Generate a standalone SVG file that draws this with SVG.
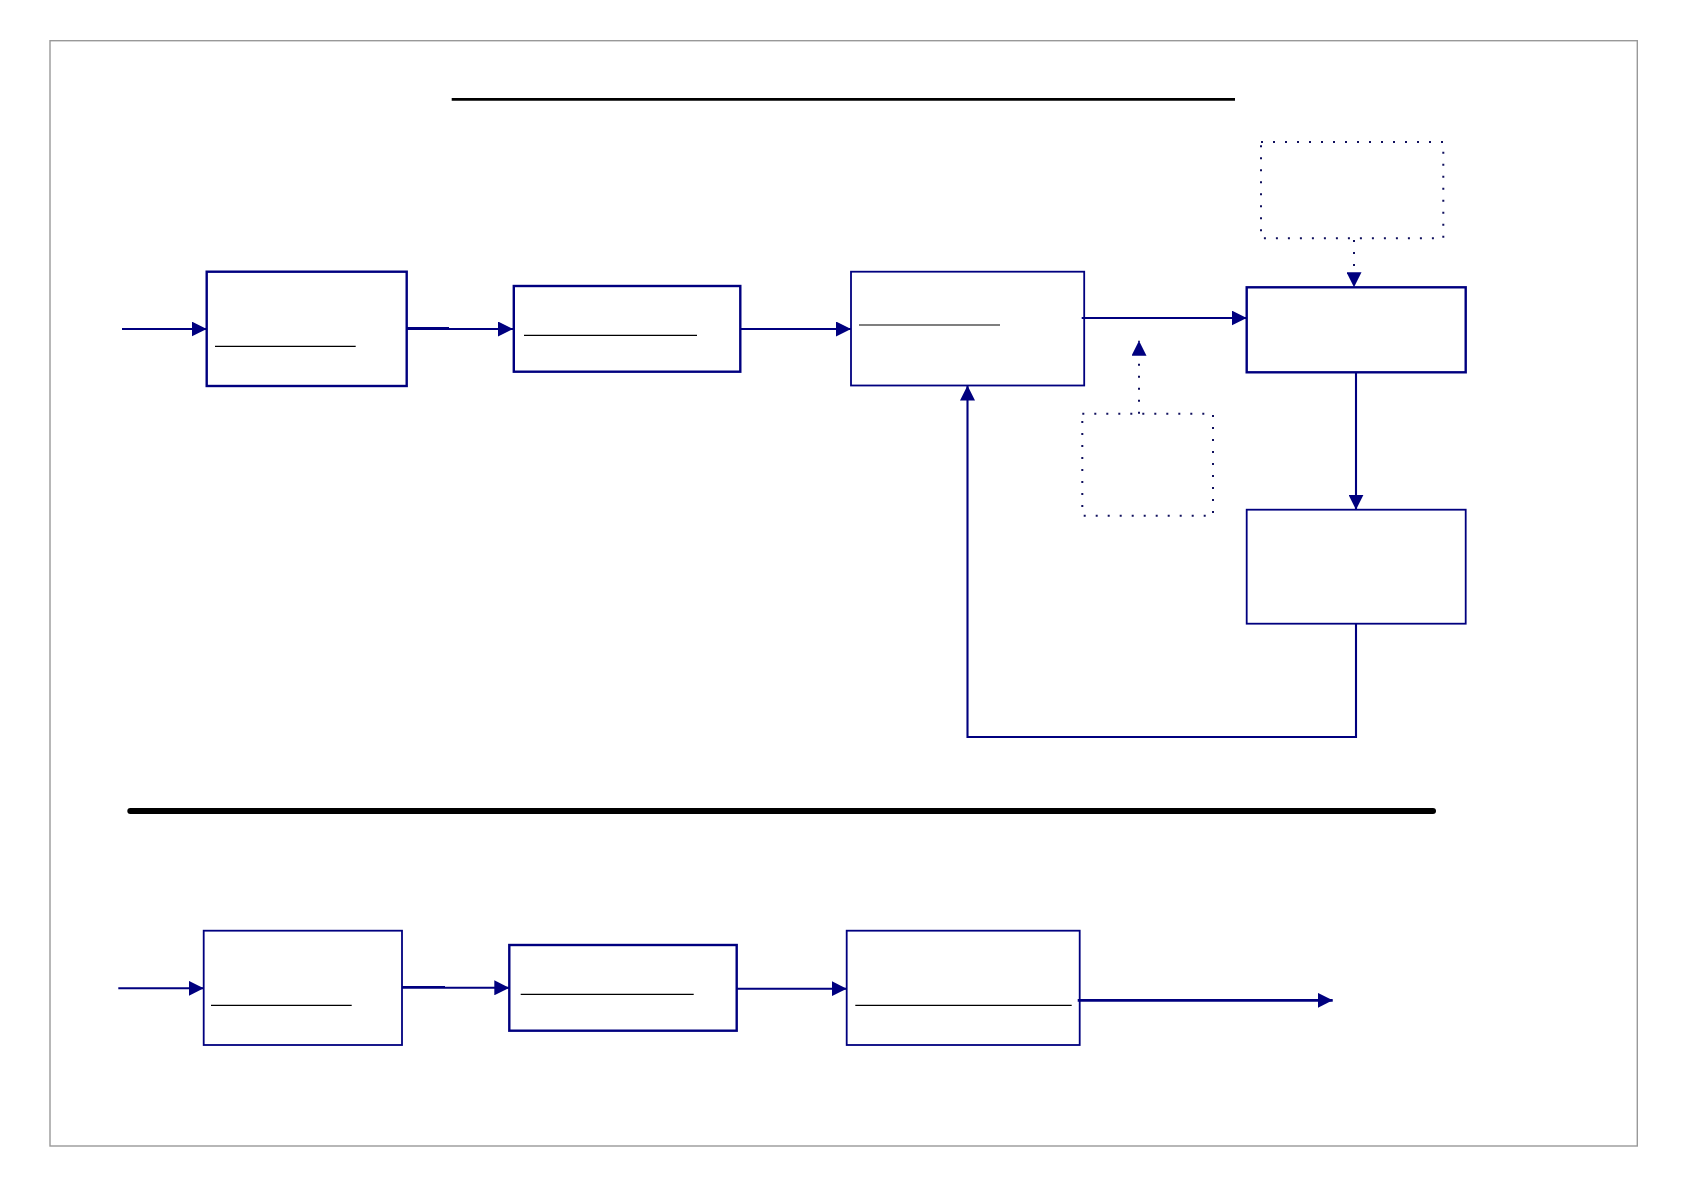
<svg xmlns="http://www.w3.org/2000/svg" width="1684" height="1190" viewBox="0 0 1684 1190">
<style>
.box{fill:#fff;stroke:#00007f;stroke-width:2.4}
.box-thin{fill:#fff;stroke:#00007f;stroke-width:1.8}
.dotbox{fill:none;stroke:#10105e;stroke-width:2;stroke-dasharray:2 10}
.inner{stroke:#000;stroke-width:1.2}
.conn{fill:none;stroke:#00007f;stroke-width:2.1}
.conn-thick{fill:none;stroke:#00007f;stroke-width:2.8}
.dotconn{fill:none;stroke:#10105e;stroke-width:2;stroke-dasharray:2 10}
</style>
<defs>
<marker id="arr" markerUnits="userSpaceOnUse" markerWidth="15" markerHeight="15" refX="15" refY="7.5" orient="auto">
<path d="M0,0 L15,7.5 L0,15 z" fill="#00007f"/>
</marker>
</defs>
<rect x="50" y="40.7" width="1587.3" height="1105.3" fill="#fff" stroke="#999" stroke-width="1.4"/>
<line x1="451.7" y1="99.3" x2="1235" y2="99.3" stroke="#000" stroke-width="2.7"/>
<line x1="130.3" y1="811" x2="1433" y2="811" stroke="#000" stroke-width="6" stroke-linecap="round"/>

<g id="node-top1"><rect class="box" x="206.7" y="271.7" width="200" height="114.3"/><line class="inner" x1="215" y1="346.3" x2="355.7" y2="346.3"/></g>
<g id="node-top2"><rect class="box" x="513.8" y="286" width="226.5" height="85.7"/><line class="inner" x1="524" y1="335.3" x2="697" y2="335.3"/></g>
<g id="node-top3"><rect class="box-thin" x="851" y="271.7" width="233.2" height="113.8"/><line class="inner" x1="859" y1="325" x2="1000" y2="325"/></g>
<g id="node-top4"><rect class="box" x="1246.7" y="287.3" width="219" height="85"/></g>
<g id="node-top5"><rect class="box-thin" x="1246.7" y="509.7" width="219" height="114"/></g>
<g id="node-dot-top"><rect class="dotbox" x="1261" y="142" width="182.3" height="96.3"/></g>
<g id="node-dot-small"><rect class="dotbox" x="1082.3" y="413.7" width="130.7" height="102"/></g>

<g id="node-bot1"><rect class="box-thin" x="203.7" y="930.7" width="198.3" height="114.3"/><line class="inner" x1="211" y1="1005.3" x2="351.7" y2="1005.3"/></g>
<g id="node-bot2"><rect class="box" x="509.3" y="945" width="227.4" height="85.7"/><line class="inner" x1="520.7" y1="994.3" x2="693.7" y2="994.3"/></g>
<g id="node-bot3"><rect class="box-thin" x="846.7" y="930.7" width="233" height="114.3"/><line class="inner" x1="855.3" y1="1005.3" x2="1071.7" y2="1005.3"/></g>

<g id="connectors">
<line class="conn" x1="122" y1="329" x2="206.7" y2="329" marker-end="url(#arr)"/>
<line class="conn-thick" x1="406.7" y1="328.5" x2="449" y2="328.5"/>
<line class="conn" x1="449" y1="329" x2="513" y2="329" marker-end="url(#arr)"/>
<line class="conn" x1="740.3" y1="329" x2="851" y2="329" marker-end="url(#arr)"/>
<line class="conn" x1="1081.7" y1="318" x2="1246.7" y2="318" marker-end="url(#arr)"/>
<line class="dotconn" x1="1354" y1="240" x2="1354" y2="287.3" marker-end="url(#arr)"/>
<line class="dotconn" x1="1139" y1="413.7" x2="1139" y2="340.7" marker-end="url(#arr)"/>
<line class="conn" x1="1356" y1="372.3" x2="1356" y2="509.7" marker-end="url(#arr)"/>
<polyline class="conn" points="1356,623.7 1356,737 967.5,737 967.5,385.5" marker-end="url(#arr)"/>

<line class="conn" x1="118.3" y1="988.3" x2="203.7" y2="988.3" marker-end="url(#arr)"/>
<line class="conn-thick" x1="402" y1="987.3" x2="445" y2="987.3"/>
<line class="conn" x1="445" y1="987.8" x2="509.3" y2="987.8" marker-end="url(#arr)"/>
<line class="conn" x1="736.7" y1="988.7" x2="846.7" y2="988.7" marker-end="url(#arr)"/>
<line class="conn-thick" x1="1077.7" y1="1000.3" x2="1332.7" y2="1000.3" marker-end="url(#arr)"/>
</g>
</svg>
